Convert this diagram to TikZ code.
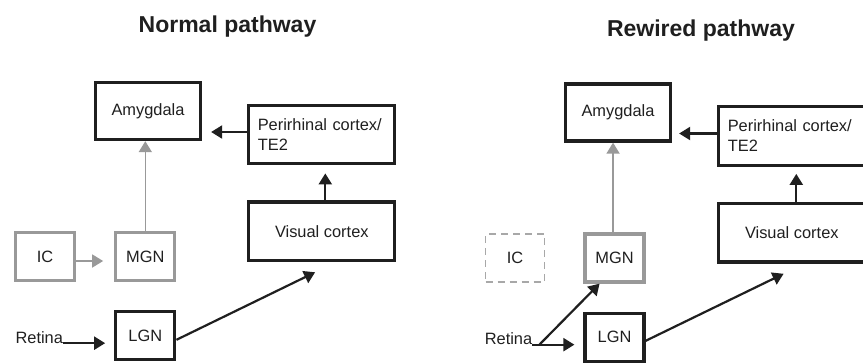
\documentclass[tikz,border=0pt]{standalone}
\usepackage{fontspec}
\setmainfont{Liberation Sans}
\usetikzlibrary{arrows.meta,positioning,calc}
\definecolor{ink}{gray}{0.12}
\definecolor{boxgrey}{gray}{0.6}
\definecolor{ghostgrey}{gray}{0.66}

\begin{document}
\begin{tikzpicture}[x=1pt,y=-1pt,ink,font=\fontsize{16.4}{20}\selectfont,
   area/.style={draw,line width=3.3pt,minimum width=59pt,minimum height=48pt,inner sep=0pt},
   cortex/.style={area,minimum width=146pt,minimum height=58.5pt},
   leftcortex/.style={cortex,align=left,text width=128pt,inner xsep=9pt},
   amyg/.style={area,minimum width=105pt,minimum height=57pt},
   relay/.style={area,draw=boxgrey},
   silent/.style={area,draw=ghostgrey,line width=1.8pt,dash pattern=on 7pt off 5pt},
   arr/.style={-{Triangle[length=11pt,width=13pt]},line width=2.2pt},
   greyarr/.style={arr,boxgrey,line width=1.6pt},
   title/.style={font=\fontsize{23}{27}\selectfont\bfseries,anchor=base}]
  \useasboundingbox (0,0) rectangle (863,362);

  % normal pathway
  \node[title] (titN) at (227.5,32) {Normal pathway};
  \node[amyg] (amyN) at (148,111) {Amygdala};
  \node[leftcortex,right=45pt of amyN,yshift=-23.5pt] (periN) {Perirhinal cortex/\\TE2};
  \node[cortex,below=35pt of periN] (visN) {Visual cortex};
  \node[relay] (icN) at (45,256.5) {IC};
  \node[relay,right=38pt of icN] (mgnN) {MGN};
  \node[area,below=28pt of mgnN] (lgnN) {LGN};
  \node[inner sep=0pt,left=51pt of lgnN,yshift=-1.5pt] (retN) {Retina};

  \draw[arr,shorten >=9pt] ([yshift=2.5pt]periN.west) -- ($(amyN.east |- periN.west)+(0,-2.5)$);
  \draw[arr,shorten >=8pt] ([xshift=3.5pt]visN.north) -- ([xshift=3.5pt]periN.south);
  \draw[greyarr,shorten >=11pt] ([yshift=-4.5pt]icN.east) -- ([yshift=-4.5pt]mgnN.west);
  \draw[greyarr] (mgnN.north) -- (mgnN.north |- amyN.south);
  \draw[arr,shorten >=9pt] (retN.base east) -- (retN.base east -| lgnN.west);
  \draw[arr,shorten >=23pt] ([yshift=-4pt]lgnN.east) -- ([xshift=14pt]visN.south);

  % rewired pathway
  \node[title] (titR) at (701,36) {Rewired pathway};
  \begin{scope}[xshift=470pt,yshift=-1.5pt]
    \node[amyg] (amyR) at (148,111) {Amygdala};
    \node[leftcortex,right=45pt of amyR,yshift=-23.5pt] (periR) {Perirhinal cortex/\\TE2};
    \node[cortex,below=35pt of periR] (visR) {Visual cortex};
    \node[silent] (icR) at (45,256.5) {IC};
    \node[relay,right=38pt of icR] (mgnR) {MGN};
    \node[area,below=28pt of mgnR] (lgnR) {LGN};
    \node[inner sep=0pt,left=51pt of lgnR,yshift=-1.5pt] (retR) {Retina};
    \coordinate[right=7pt of retR.base east] (forkR);

    \draw[arr,shorten >=7pt] ([yshift=2.5pt]periR.west) -- ($(amyR.east |- periR.west)+(0,-2.5)$);
    \draw[arr,shorten >=7pt] ([xshift=4.5pt]visR.north) -- ([xshift=4.5pt]periR.south);
    \draw[greyarr] ([xshift=-1.5pt]mgnR.north) -- ($(mgnR.north |- amyR.south)+(-1.5,0)$);
    \draw[line width=2.2pt] (retR.base east) -- (forkR);
    \draw[arr,shorten >=9pt] (forkR) -- (forkR -| lgnR.west);
    \draw[arr] (forkR) -- ([xshift=-15pt]mgnR.south);
    \draw[arr,shorten >=23pt] ([yshift=-3.5pt]lgnR.east) -- ([xshift=12.5pt]visR.south);
  \end{scope}
\end{tikzpicture}
\end{document}
